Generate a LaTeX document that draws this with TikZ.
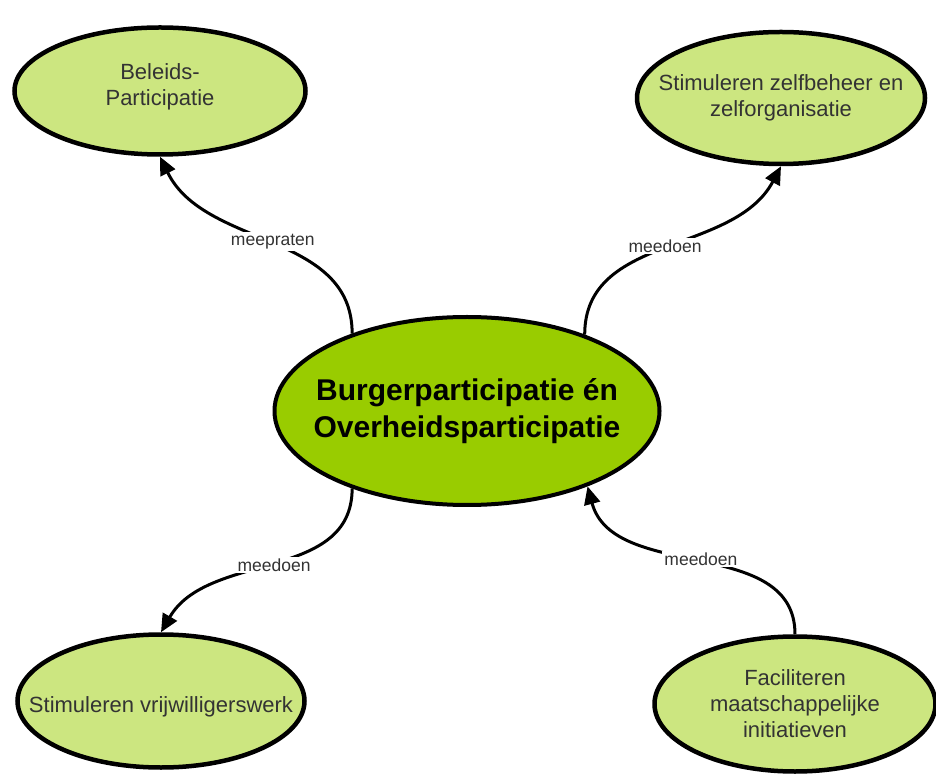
\documentclass[tikz,border=0pt]{standalone}
\usepackage{fontspec}
\setmainfont{Liberation Sans}
\usetikzlibrary{arrows.meta,shapes.geometric}
\definecolor{hubgreen}{RGB}{153,204,0}
\definecolor{leafgreen}{RGB}{204,230,128}
\definecolor{leaftext}{RGB}{51,51,51}

\begin{document}
\begin{tikzpicture}[x=1pt,y=1pt,
  hub/.style={ellipse, draw, line width=4pt, fill=hubgreen},
  leaf/.style={ellipse, draw, line width=4.5pt, fill=leafgreen},
  hubtext/.style={align=center, font=\fontsize{30}{37}\selectfont\bfseries},
  leaftext/.style={align=center, text=leaftext, font=\fontsize{22}{26}\selectfont},
  link/.style={line width=3pt, -{Triangle[length=18pt,width=16pt]}},
  linklabel/.style={fill=white, text=leaftext, inner sep=2pt, font=\fontsize{17.5}{20}\selectfont}]
\useasboundingbox (0,0) rectangle (936,774);

% Draw central ellipse
\node[hub, minimum width=385pt, minimum height=188pt] (hub) at (467,363) {};
\node[hubtext] (hubtxt) at (hub.center) {Burgerparticipatie én\\Overheidsparticipatie};

% Draw outer ellipses
\node[leaf, minimum width=291pt, minimum height=127pt] (beleid) at (160,683) {};
\node[leaftext] (beleidtxt) at ([yshift=4pt]beleid.center) {Beleids-\\Participatie};

\node[leaf, minimum width=288pt, minimum height=132pt] (zelf) at (781,676) {};
\node[leaftext] (zelftxt) at (zelf.center) {Stimuleren zelfbeheer en\\zelforganisatie};

\node[leaf, minimum width=287pt, minimum height=133pt] (vrij) at (161,73) {};
\node[leaftext] (vrijtxt) at ([yshift=-6pt]vrij.center) {Stimuleren vrijwilligerswerk};

\node[leaf, minimum width=281pt, minimum height=135pt] (faci) at (795,70) {};
\node[leaftext] (facitxt) at (faci.center) {Faciliteren\\maatschappelijke\\initiatieven};

% Draw connectors
\draw[link] (hub.146) to[out=90,in=-64] node[linklabel] (lblbeleid) {meepraten} (beleid.south);
\draw[link] (hub.33) to[out=90,in=-118] node[linklabel] (lblzelf) {meedoen} (zelf.south);
\draw[link] (hub.214) to[out=-90,in=60] node[linklabel] (lblvrij) {meedoen} (vrij.north);
\draw[link] (faci.north) to[out=90,in=-75] node[linklabel] (lblfaci) {meedoen} (hub.-32);
\end{tikzpicture}
\end{document}
